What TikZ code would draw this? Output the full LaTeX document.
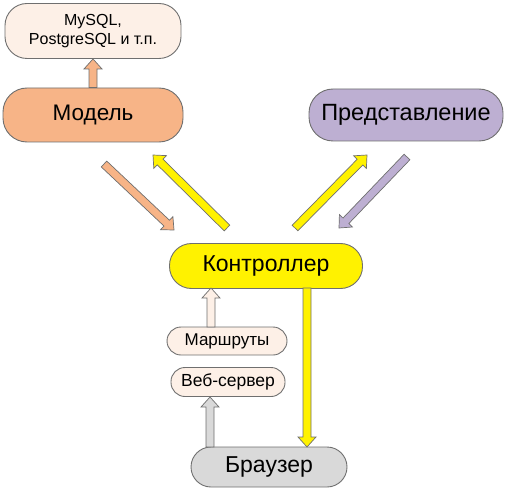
\documentclass[tikz,border=0pt]{standalone}
\usepackage{fontspec}
\setmainfont{Liberation Sans}
\usetikzlibrary{calc}

\definecolor{peach}{HTML}{FDF0E7}
\definecolor{modelc}{HTML}{F7B487}
\definecolor{viewc}{HTML}{BDAFD2}
\definecolor{browserc}{HTML}{D9D9D9}
\definecolor{edgec}{HTML}{6F6F6F}

\tikzset{
  box/.style={draw=edgec, line width=0.9pt, rounded corners=#1, align=center, inner sep=0pt},
  blockarrow/.style={draw=edgec, line width=0.7pt, fill=#1, line join=miter, to path={
    ($(\tikztostart)!4pt!90:(\tikztotarget)$)
    -- ($(\tikztotarget)!10pt!(\tikztostart)!4pt!90:(\tikztotarget)$)
    -- ($(\tikztotarget)!10pt!(\tikztostart)!9pt!90:(\tikztotarget)$)
    -- (\tikztotarget)
    -- ($(\tikztotarget)!10pt!(\tikztostart)!9pt!-90:(\tikztotarget)$)
    -- ($(\tikztotarget)!10pt!(\tikztostart)!4pt!-90:(\tikztotarget)$)
    -- ($(\tikztostart)!4pt!-90:(\tikztotarget)$)
    -- cycle}}
}

\begin{document}
\begin{tikzpicture}[x=1pt, y=-1pt]
  \useasboundingbox (0,0) rectangle (508,489);
  % boxes
  \node (db) [box=22pt, fill=peach, minimum width=176pt, minimum height=55pt, font=\fontsize{16}{19}\selectfont] at (93,31) {MySQL,\\PostgreSQL и т.п.};
  \node (model) [box=24pt, fill=modelc, minimum width=180pt, minimum height=54pt, font=\fontsize{22.5}{26}\selectfont] at (93,115) {Модель};
  \node (view) [box=24pt, fill=viewc, minimum width=194pt, minimum height=52pt, font=\fontsize{23.5}{26}\selectfont] at (406,115) {Представление};
  \node (ctrl) [box=22pt, fill=yellow, minimum width=193pt, minimum height=45pt, font=\fontsize{23}{26}\selectfont] at (266,266) {Контроллер};
  \node (routes) [box=14pt, fill=peach, minimum width=120pt, minimum height=28pt, font=\fontsize{17}{20}\selectfont] at (227,341) {Маршруты};
  \node (web) [box=14pt, fill=peach, minimum width=114pt, minimum height=29pt, font=\fontsize{17.5}{20}\selectfont] at (228,382) {Веб-сервер};
  \node (browser) [box=20pt, fill=browserc, minimum width=156pt, minimum height=40pt, font=\fontsize{23}{26}\selectfont] at (269,467) {Браузер};

  % free ends of the arrows
  \coordinate (m1) at (104,164);
  \coordinate (m2) at (174,230);
  \coordinate (c1) at (227,228);
  \coordinate (c2) at (153,155);
  \coordinate (c3) at (295,228);
  \coordinate (c4) at (367,155);
  \coordinate (v1) at (407,157);
  \coordinate (v2) at (339,228);
  \coordinate (r1) at (211,327);
  \coordinate (r2) at (211,288);
  \coordinate (b1) at (210,447);
  \coordinate (b2) at (210,397);
  \coordinate (c5) at (307,288);
  \coordinate (b3) at (307,447);

  % arrows
  \draw[blockarrow=modelc] (model.north) to (db.south);
  \draw[blockarrow=modelc] (m1) to (m2);
  \draw[blockarrow=yellow] (c1) to (c2);
  \draw[blockarrow=yellow] (c3) to (c4);
  \draw[blockarrow=viewc] (v1) to (v2);
  \draw[blockarrow=peach] (r1) to (r2);
  \draw[blockarrow=browserc] (b1) to (b2);
  \draw[blockarrow=yellow] (c5) to (b3);
\end{tikzpicture}
\end{document}
